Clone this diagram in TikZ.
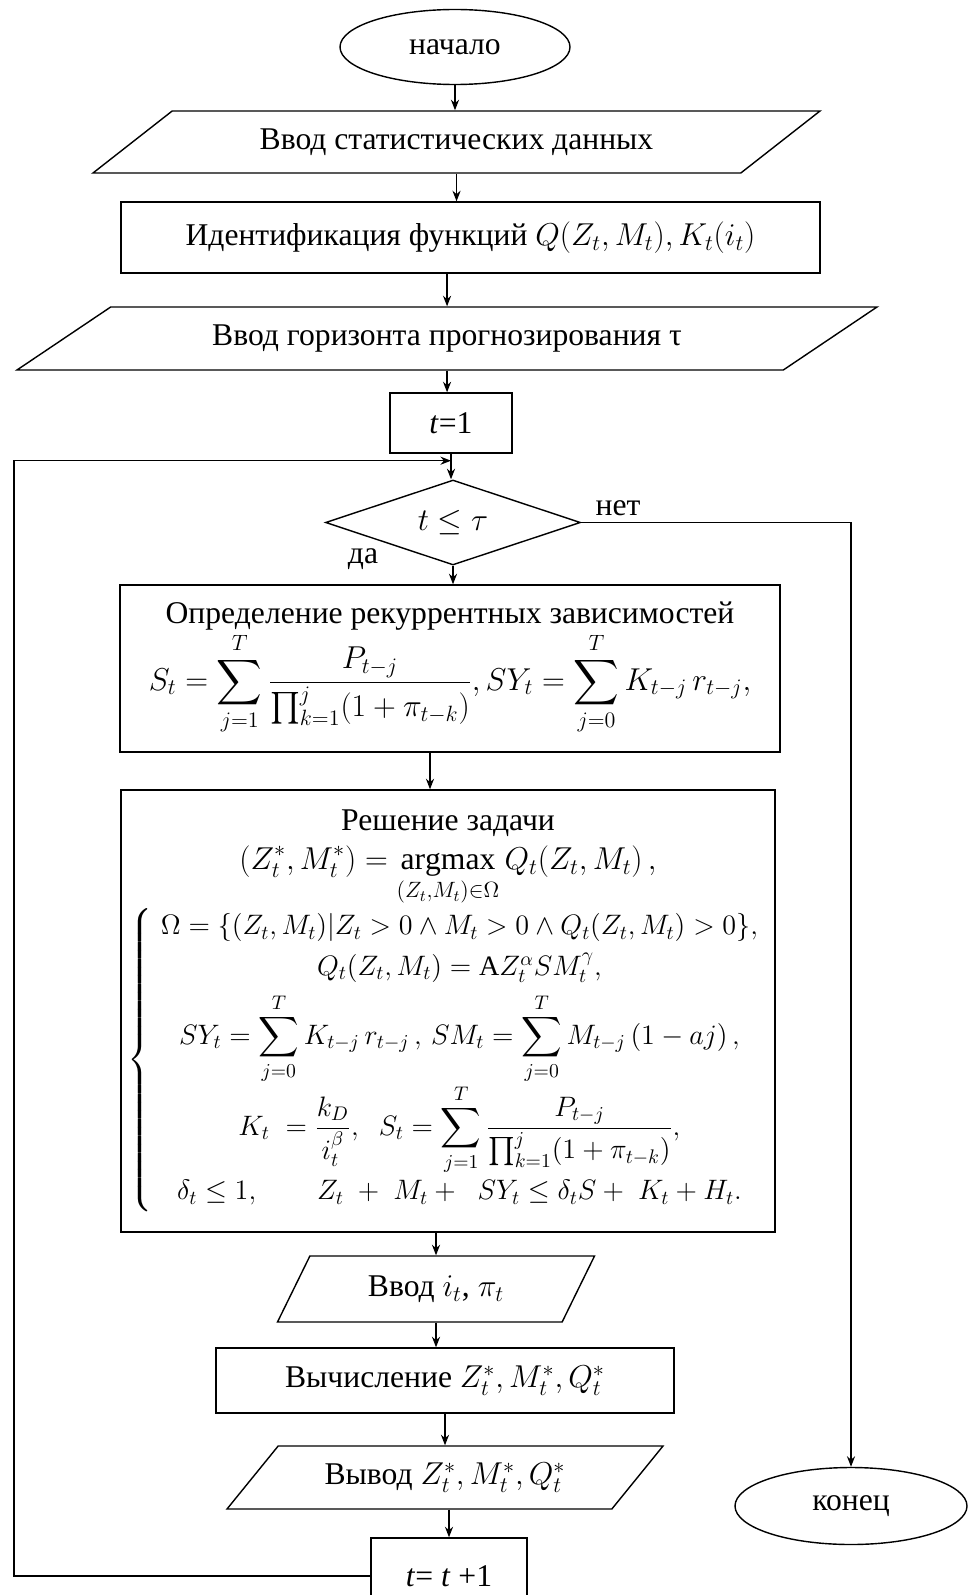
\RequirePackage{fix-cm}
\documentclass[tikz,border=0pt]{standalone}
\usepackage{fontspec}
\setmainfont{Liberation Serif}
\usepackage{amsmath,amssymb}
\usetikzlibrary{shapes.geometric, arrows.meta, calc}

\begin{document}
\begin{tikzpicture}[
    font=\fontsize{18}{22}\selectfont,
    >={Stealth[length=6pt,width=4.6pt]},
    line width=0.8pt,
    block/.style={
        draw,
        rectangle,
        align=center,
        inner sep=3pt
    },
    term/.style={draw, ellipse, minimum width=4.6cm, minimum height=1.5cm, inner sep=0pt},
    iobox/.style 2 args={
        draw,
        trapezium,
        trapezium left angle=#1,
        trapezium right angle=#2,
        trapezium stretches body,
        align=center,
        inner sep=2pt
    },
    decision/.style={draw, diamond, aspect=3, inner sep=0pt},
    arrow/.style={->, line width=0.8pt}
]
\useasboundingbox (0,0) rectangle (19.38,-31.9);

% Main column
\node[term] (start) at (9.10,-0.94) {начало};

\node[iobox={23.15}{156.85}, minimum width=14.54cm, minimum height=1.24cm] (in1) at (9.13,-2.84) {Ввод статистических данных};

\node[block, minimum width=13.98cm, minimum height=1.42cm] (ident) at (9.41,-4.75) {Идентификация функций $Q(Z_t,M_t),K_t(i_t)$};

\node[iobox={20.2}{159.8}, minimum width=17.2cm, minimum height=1.26cm] (horizon) at (8.94,-6.77) {Ввод горизонта прогнозирования τ};

\node[block, minimum width=2.44cm, minimum height=1.2cm] (tone) at (9.02,-8.46) {\textit{t}=1};

\node[decision, minimum width=5.1cm, minimum height=1.7cm] (cond) at (9.06,-10.45) {$t\le\tau$};

\node[block, minimum width=13.2cm, minimum height=3.34cm] (recur) at (9.0,-13.37) {
    Определение рекуррентных зависимостей\\
    $\displaystyle S_t=\sum_{j=1}^{T}\frac{P_{t-j}}{\prod_{k=1}^{j}(1+\pi_{t-k})},SY_t=\sum_{j=0}^{T}K_{t-j}\,r_{t-j},$
};

\node[block, minimum width=13.08cm, minimum height=8.84cm] (solve) at (8.96,-20.22) {
    Решение задачи\\
    $\displaystyle (Z_t^*,M_t^*)=\operatorname*{argmax}_{(Z_t,M_t)\in\Omega}Q_t(Z_t,M_t)\,,$\\
    {\fontsize{16}{20}\selectfont
    $\left\{\begin{array}{c}
        \Omega=\{(Z_t,M_t)|Z_t>0\wedge M_t>0\wedge Q_t(Z_t,M_t)>0\},\\[3pt]
        Q_t(Z_t,M_t)=\mathrm{A}Z_t^{\alpha}SM_t^{\gamma},\\[4pt]
        \displaystyle SY_t=\sum_{j=0}^{T}K_{t-j}\,r_{t-j}\,,\,SM_t=\sum_{j=0}^{T}M_{t-j}\,(1-aj)\,,\\[10pt]
        \displaystyle K_t\;=\frac{k_D}{i_t^{\beta}},\;\;S_t=\sum_{j=1}^{T}\frac{P_{t-j}}{\prod_{k=1}^{j}(1+\pi_{t-k})},\\[6pt]
        \delta_t\le 1,\qquad Z_t\;+\;M_t+\;\;SY_t\le\delta_tS+\;K_t+H_t.
    \end{array}\right.$}
};

\node[iobox={46.3}{133.7}, minimum width=6.34cm, minimum height=1.32cm] (inrate) at (8.72,-25.78) {Ввод $i_t$, $\pi_t$};

\node[block, minimum width=9.16cm, minimum height=1.3cm] (calc) at (8.9,-27.61) {Вычисление $Z_t^*,M_t^*,Q_t^*$};

\node[iobox={35.6}{144.4}, minimum width=8.72cm, minimum height=1.26cm] (outres) at (8.9,-29.55) {Вывод $Z_t^*,M_t^*,Q_t^*$};

\node[block, minimum width=3.12cm, minimum height=1.52cm] (tinc) at (8.98,-31.52) {\textit{t}= \textit{t} +1};

% Exit branch
\node[term, minimum width=4.64cm, minimum height=1.54cm] (stop) at (17.02,-30.12) {конец};

\node (no) at (12.36,-10.16) {нет};
\node (yes) at (7.26,-11.18) {да};

\coordinate (join) at ($(tone.south)+(0,-0.14)$);
\coordinate (leftx) at (0.28,0);

\draw[arrow] (start.south) -- (start.south |- in1.north);
\draw[arrow] (in1.south) -- (in1.south |- ident.north);
\draw[arrow] (horizon.north |- ident.south) -- (horizon.north);
\draw[arrow] (horizon.south) -- (horizon.south |- tone.north);
\draw[arrow] (tone.south) -- (tone.south |- cond.north);
\draw[arrow] (cond.south) -- (cond.south |- recur.north);
\draw[arrow] ($(recur.south)+(-0.4,0)$) -- ($(recur.south |- solve.north)+(-0.4,0)$);
\draw[arrow] (solve.south -| inrate.north) -- (inrate.north);
\draw[arrow] (inrate.south) -- (inrate.south |- calc.north);
\draw[arrow] (calc.south) -- (calc.south |- outres.north);
\draw[arrow] (tinc.north |- outres.south) -- (tinc.north);

% Loop back and exit
\draw[arrow] (tinc.west) -| (leftx |- join) -- (join);
\draw[arrow] (cond.east) -| (stop.north);

\end{tikzpicture}
\end{document}
